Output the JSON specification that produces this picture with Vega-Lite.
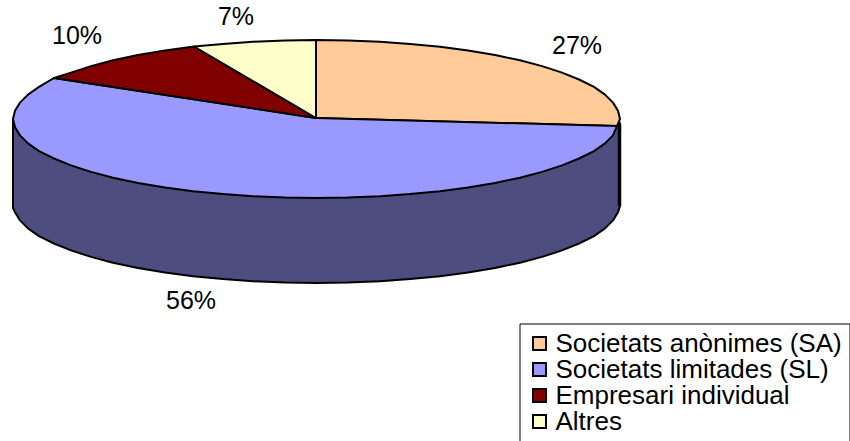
{
"$schema":"https://vega.github.io/schema/vega-lite/v6.json",
"width":850,"height":441,"padding":0,"autosize":"none","background":"white",
"config":{"view":{"stroke":null}},
"datasets":{
"wall":[{"step":1,"x":-303,"y":-1},{"step":2,"x":-303,"y":-90},{"step":3,"x":-301,"y":-94.3},{"step":4,"x":-296,"y":-102.4},{"step":5,"x":-288,"y":-110.4},{"step":6,"x":-277,"y":-118.1},{"step":7,"x":-262,"y":-125.5},{"step":8,"x":-245,"y":-132.4},{"step":9,"x":-225,"y":-138.9},{"step":10,"x":-203,"y":-144.7},{"step":11,"x":-178,"y":-149.9},{"step":12,"x":-151,"y":-154.4},{"step":13,"x":-123,"y":-158.2},{"step":14,"x":-93,"y":-161.1},{"step":15,"x":-63,"y":-163.3},{"step":16,"x":-31,"y":-164.6},{"step":17,"x":0.5,"y":-165},{"step":18,"x":32,"y":-164.6},{"step":19,"x":64,"y":-163.3},{"step":20,"x":94,"y":-161.1},{"step":21,"x":124,"y":-158.2},{"step":22,"x":152,"y":-154.4},{"step":23,"x":179,"y":-149.9},{"step":24,"x":204,"y":-144.7},{"step":25,"x":226,"y":-138.9},{"step":26,"x":246,"y":-132.4},{"step":27,"x":263,"y":-125.5},{"step":28,"x":278,"y":-118.1},{"step":29,"x":289,"y":-110.4},{"step":30,"x":297,"y":-102.4},{"step":31,"x":302,"y":-94.3},{"step":32,"x":304,"y":-88},{"step":33,"x":304,"y":-5},{"step":34,"x":-303,"y":-1}],
"edge":[{"step":1,"x":303.5,"y":-6},{"step":2,"x":303.5,"y":-88}],
"top":[
{"segment":"Societats anònimes (SA)","step":1,"x":0,"y":0},{"segment":"Societats anònimes (SA)","step":2,"x":0,"y":78},{"segment":"Societats anònimes (SA)","step":3,"x":32,"y":77.6},{"segment":"Societats anònimes (SA)","step":4,"x":64,"y":76.3},{"segment":"Societats anònimes (SA)","step":5,"x":94,"y":74.1},{"segment":"Societats anònimes (SA)","step":6,"x":124,"y":71.2},{"segment":"Societats anònimes (SA)","step":7,"x":152,"y":67.4},{"segment":"Societats anònimes (SA)","step":8,"x":179,"y":62.9},{"segment":"Societats anònimes (SA)","step":9,"x":204,"y":57.7},{"segment":"Societats anònimes (SA)","step":10,"x":226,"y":51.9},{"segment":"Societats anònimes (SA)","step":11,"x":246,"y":45.4},{"segment":"Societats anònimes (SA)","step":12,"x":263,"y":38.5},{"segment":"Societats anònimes (SA)","step":13,"x":278,"y":31.1},{"segment":"Societats anònimes (SA)","step":14,"x":289,"y":23.4},{"segment":"Societats anònimes (SA)","step":15,"x":297,"y":15.4},{"segment":"Societats anònimes (SA)","step":16,"x":302,"y":7.3},{"segment":"Societats anònimes (SA)","step":17,"x":304,"y":-1},{"segment":"Societats anònimes (SA)","step":18,"x":301,"y":-8},{"segment":"Societats anònimes (SA)","step":19,"x":0,"y":0},
{"segment":"Societats limitades (SL)","step":1,"x":0,"y":0},{"segment":"Societats limitades (SL)","step":2,"x":301,"y":-8},{"segment":"Societats limitades (SL)","step":3,"x":297,"y":-17.4},{"segment":"Societats limitades (SL)","step":4,"x":289,"y":-25.4},{"segment":"Societats limitades (SL)","step":5,"x":278,"y":-33.1},{"segment":"Societats limitades (SL)","step":6,"x":263,"y":-40.5},{"segment":"Societats limitades (SL)","step":7,"x":246,"y":-47.4},{"segment":"Societats limitades (SL)","step":8,"x":226,"y":-53.9},{"segment":"Societats limitades (SL)","step":9,"x":204,"y":-59.7},{"segment":"Societats limitades (SL)","step":10,"x":179,"y":-64.9},{"segment":"Societats limitades (SL)","step":11,"x":152,"y":-69.4},{"segment":"Societats limitades (SL)","step":12,"x":124,"y":-73.2},{"segment":"Societats limitades (SL)","step":13,"x":94,"y":-76.1},{"segment":"Societats limitades (SL)","step":14,"x":64,"y":-78.3},{"segment":"Societats limitades (SL)","step":15,"x":32,"y":-79.6},{"segment":"Societats limitades (SL)","step":16,"x":0.5,"y":-80},{"segment":"Societats limitades (SL)","step":17,"x":-31,"y":-79.6},{"segment":"Societats limitades (SL)","step":18,"x":-63,"y":-78.3},{"segment":"Societats limitades (SL)","step":19,"x":-93,"y":-76.1},{"segment":"Societats limitades (SL)","step":20,"x":-123,"y":-73.2},{"segment":"Societats limitades (SL)","step":21,"x":-151,"y":-69.4},{"segment":"Societats limitades (SL)","step":22,"x":-178,"y":-64.9},{"segment":"Societats limitades (SL)","step":23,"x":-203,"y":-59.7},{"segment":"Societats limitades (SL)","step":24,"x":-225,"y":-53.9},{"segment":"Societats limitades (SL)","step":25,"x":-245,"y":-47.4},{"segment":"Societats limitades (SL)","step":26,"x":-262,"y":-40.5},{"segment":"Societats limitades (SL)","step":27,"x":-277,"y":-33.1},{"segment":"Societats limitades (SL)","step":28,"x":-288,"y":-25.4},{"segment":"Societats limitades (SL)","step":29,"x":-296,"y":-17.4},{"segment":"Societats limitades (SL)","step":30,"x":-301,"y":-9.3},{"segment":"Societats limitades (SL)","step":31,"x":-303,"y":-1},{"segment":"Societats limitades (SL)","step":32,"x":-301,"y":7.3},{"segment":"Societats limitades (SL)","step":33,"x":-296,"y":15.4},{"segment":"Societats limitades (SL)","step":34,"x":-288,"y":23.4},{"segment":"Societats limitades (SL)","step":35,"x":-277,"y":31.1},{"segment":"Societats limitades (SL)","step":36,"x":-262,"y":40},{"segment":"Societats limitades (SL)","step":37,"x":0,"y":0},
{"segment":"Empresari individual","step":1,"x":0,"y":0},{"segment":"Empresari individual","step":2,"x":-262,"y":40},{"segment":"Empresari individual","step":3,"x":-245,"y":45.4},{"segment":"Empresari individual","step":4,"x":-225,"y":51.9},{"segment":"Empresari individual","step":5,"x":-203,"y":57.7},{"segment":"Empresari individual","step":6,"x":-178,"y":62.9},{"segment":"Empresari individual","step":7,"x":-151,"y":67.4},{"segment":"Empresari individual","step":8,"x":-122,"y":71.5},{"segment":"Empresari individual","step":9,"x":0,"y":0},
{"segment":"Altres","step":1,"x":0,"y":0},{"segment":"Altres","step":2,"x":-122,"y":71.5},{"segment":"Altres","step":3,"x":-93,"y":74.1},{"segment":"Altres","step":4,"x":-63,"y":76.3},{"segment":"Altres","step":5,"x":-31,"y":77.6},{"segment":"Altres","step":6,"x":0,"y":78},{"segment":"Altres","step":7,"x":0,"y":0}
],
"labels":[{"share":"27%","x":261,"y":72},{"share":"56%","x":-125,"y":-183},{"share":"10%","x":-239,"y":82},{"share":"7%","x":-80,"y":101}]
},
"encoding":{
"x":{"field":"x","type":"quantitative","axis":null,"scale":{"domain":[-316,534],"nice":false,"zero":false}},
"y":{"field":"y","type":"quantitative","axis":null,"scale":{"domain":[-323,118],"nice":false,"zero":false}}
},
"layer":[
{"data":{"name":"wall"},"mark":{"type":"line","fill":"#4D4D80","stroke":"black","strokeWidth":2,"strokeJoin":"round"},"encoding":{"order":{"field":"step","type":"quantitative"}}},
{"data":{"name":"edge"},"mark":{"type":"line","stroke":"black","strokeWidth":3.5},"encoding":{"order":{"field":"step","type":"quantitative"}}},
{"data":{"name":"top"},"mark":{"type":"line","stroke":"black","strokeWidth":2,"strokeJoin":"round"},"encoding":{
"order":{"field":"step","type":"quantitative"},
"fill":{"field":"segment","type":"nominal","scale":{"domain":["Societats anònimes (SA)","Societats limitades (SL)","Empresari individual","Altres"],"range":["#FFCC99","#9999FF","#800000","#FFFFCC"]},
"legend":{"title":null,"orient":"none","legendX":519.5,"legendY":323.5,"padding":7,"strokeColor":"black","fillColor":"white","symbolType":"square","symbolSize":169,"symbolStrokeColor":"black","symbolStrokeWidth":2,"symbolOffset":0,"labelOffset":3,"labelFont":"Liberation Sans","labelFontSize":26,"labelColor":"black","labelLimit":400,"rowPadding":0,"symbolOpacity":1}}
}},
{"data":{"name":"labels"},"mark":{"type":"text","font":"Liberation Sans","fontSize":25,"color":"black","align":"center","baseline":"middle"},"encoding":{"text":{"field":"share","type":"nominal"}}}
]
}
